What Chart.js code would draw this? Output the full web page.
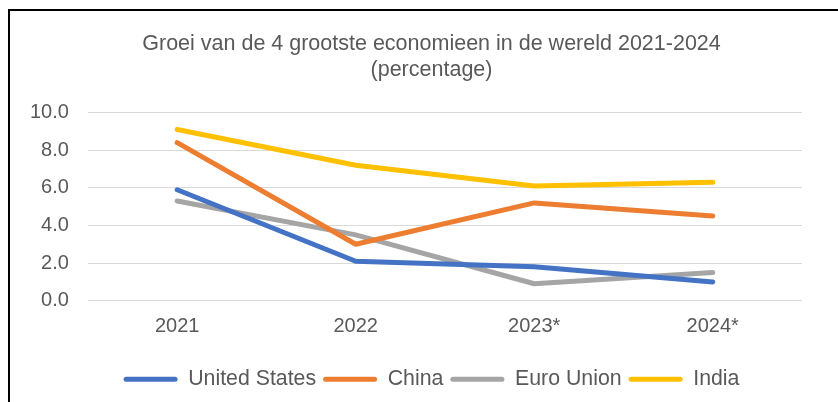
<!DOCTYPE html>
<html>
<head>
<meta charset="utf-8">
<script src="https://cdn.jsdelivr.net/npm/chart.js@4"></script>
<style>
  html, body { margin: 0; padding: 0; background: #fff; overflow: hidden; }
  #wrap { position: absolute; left: 0; top: 0; width: 838px; height: 402px; }
  #frame { position: absolute; left: 8px; top: 9px; width: 900px; height: 500px; border: 2px solid #000; pointer-events: none; }
</style>
</head>
<body>
<div id="wrap"><canvas id="c" width="838" height="402"></canvas></div>
<div id="frame"></div>
<script>
const categories = ["2021", "2022", "2023*", "2024*"];
const unitedStates = [5.9, 2.1, 1.8, 1.0];
const china = [8.4, 3.0, 5.2, 4.5];
const euroUnion = [5.3, 3.5, 0.9, 1.5];
const india = [9.1, 7.2, 6.1, 6.3];
const seriesNames = ["United States", "China", "Euro Union", "India"];
const titleLines = ["Groei van de 4 grootste economieen in de wereld 2021-2024", "(percentage)"];

const colors = ["#4472C4", "#ED7D31", "#A5A5A5", "#FFC000"];
const seriesData = [unitedStates, china, euroUnion, india];
const FONT = "'Liberation Sans', Arial, sans-serif";
const TXT = "#595959";

const datasets = seriesData.map((d, i) => ({
  label: seriesNames[i],
  data: d,
  borderColor: colors[i],
  backgroundColor: colors[i],
  borderWidth: 5,
  pointRadius: 0,
  pointHoverRadius: 0,
  tension: 0,
  borderCapStyle: 'round',
  borderJoinStyle: 'round',
  fill: false
}));

// shift title and legend horizontally to match the original centring
const shiftBlocks = {
  id: 'shiftBlocks',
  afterLayout(chart) {
    const dx = 25;
    [chart.titleBlock, chart.legend].forEach(b => {
      if (b) { b.left += dx; b.right += dx; }
    });
  }
};

new Chart(document.getElementById('c'), {
  type: 'line',
  data: { labels: categories, datasets },
  plugins: [shiftBlocks],
  options: {
    responsive: false,
    animation: false,
    devicePixelRatio: 1,
    layout: { padding: { top: 31, left: 11, right: 36, bottom: 2 } },
    plugins: {
      title: {
        display: true,
        text: titleLines,
        color: TXT,
        font: { family: FONT, size: 21.5, weight: 'normal', lineHeight: 1.2 },
        padding: { top: 0, bottom: 30 }
      },
      legend: {
        display: true,
        position: 'bottom',
        labels: {
          color: TXT,
          font: { family: FONT, size: 21.3 },
          boxWidth: 54,
          boxHeight: 5,
          padding: 7,
          useBorderRadius: true,
          borderRadius: 2.5,
          generateLabels(chart) {
            const items = Chart.defaults.plugins.legend.labels.generateLabels(chart);
            items.forEach(it => { it.lineWidth = 0; });
            return items;
          }
        }
      },
      tooltip: { enabled: false }
    },
    scales: {
      x: {
        offset: true,
        grid: { display: false, drawTicks: false },
        border: { display: false },
        ticks: { color: TXT, font: { family: FONT, size: 20 }, padding: 14 },
        afterFit(scale) { scale.height += 9; }
      },
      y: {
        min: 0,
        max: 10,
        ticks: {
          stepSize: 2,
          color: TXT,
          font: { family: FONT, size: 20 },
          padding: 19,
          callback: v => Number(v).toFixed(1)
        },
        grid: { color: '#D9D9D9', lineWidth: 1, drawTicks: false },
        border: { display: false }
      }
    }
  }
});
</script>
</body>
</html>
